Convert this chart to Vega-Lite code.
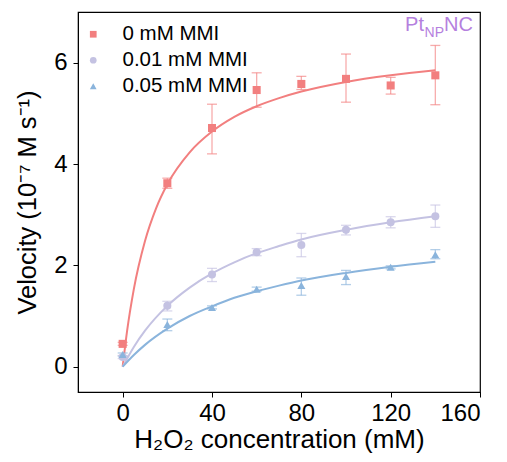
{
  "$schema": "https://vega.github.io/schema/vega-lite/v6.json",
  "width": 402,
  "height": 380,
  "autosize": "none",
  "padding": {"left": 78, "top": 12, "right": 27, "bottom": 70},
  "background": "white",
  "config": {
    "font": "Liberation Sans",
    "view": {"stroke": "black", "strokeWidth": 1.2},
    "axis": {
      "grid": false,
      "domainColor": "black",
      "tickColor": "black",
      "tickSize": 5,
      "labelFontSize": 24,
      "labelColor": "black",
      "titleFontSize": 25,
      "titleFontWeight": "normal",
      "titleColor": "black",
      "labelPadding": 4
    },
    "legend": {
      "labelFontSize": 20.5,
      "labelColor": "black",
      "labelFont": "Liberation Sans"
    }
  },
  "datasets": {
    "pts": [
      {"series": "0 mM MMI", "x": 0, "v": 0.45, "lo": 0.42, "hi": 0.48},
      {"series": "0 mM MMI", "x": 20, "v": 3.62, "lo": 3.52, "hi": 3.72},
      {"series": "0 mM MMI", "x": 40, "v": 4.71, "lo": 4.2, "hi": 5.18},
      {"series": "0 mM MMI", "x": 60, "v": 5.46, "lo": 5.12, "hi": 5.8},
      {"series": "0 mM MMI", "x": 80, "v": 5.58, "lo": 5.47, "hi": 5.73},
      {"series": "0 mM MMI", "x": 100, "v": 5.68, "lo": 5.22, "hi": 6.17},
      {"series": "0 mM MMI", "x": 120, "v": 5.55, "lo": 5.38, "hi": 5.71},
      {"series": "0 mM MMI", "x": 140, "v": 5.75, "lo": 5.17, "hi": 6.34},
      {"series": "0.01 mM MMI", "x": 0, "v": 0.19, "lo": 0.16, "hi": 0.22},
      {"series": "0.01 mM MMI", "x": 20, "v": 1.2, "lo": 1.1, "hi": 1.29},
      {"series": "0.01 mM MMI", "x": 40, "v": 1.82, "lo": 1.68, "hi": 1.94},
      {"series": "0.01 mM MMI", "x": 60, "v": 2.26, "lo": 2.19, "hi": 2.33},
      {"series": "0.01 mM MMI", "x": 80, "v": 2.4, "lo": 2.17, "hi": 2.63},
      {"series": "0.01 mM MMI", "x": 100, "v": 2.7, "lo": 2.6, "hi": 2.79},
      {"series": "0.01 mM MMI", "x": 120, "v": 2.85, "lo": 2.74, "hi": 2.96},
      {"series": "0.01 mM MMI", "x": 140, "v": 2.97, "lo": 2.75, "hi": 3.19},
      {"series": "0.05 mM MMI", "x": 0, "v": 0.24, "lo": 0.21, "hi": 0.27},
      {"series": "0.05 mM MMI", "x": 20, "v": 0.83, "lo": 0.71, "hi": 0.94},
      {"series": "0.05 mM MMI", "x": 40, "v": 1.17, "lo": 1.14, "hi": 1.2},
      {"series": "0.05 mM MMI", "x": 60, "v": 1.53, "lo": 1.49, "hi": 1.57},
      {"series": "0.05 mM MMI", "x": 80, "v": 1.6, "lo": 1.41, "hi": 1.75},
      {"series": "0.05 mM MMI", "x": 100, "v": 1.78, "lo": 1.62, "hi": 1.9},
      {"series": "0.05 mM MMI", "x": 120, "v": 1.96, "lo": 1.93, "hi": 1.99},
      {"series": "0.05 mM MMI", "x": 140, "v": 2.21, "lo": 2.13, "hi": 2.31}
    ],
    "fit": [
      {"series": "0 mM MMI", "x": 0, "v": 0},
      {"series": "0 mM MMI", "x": 2, "v": 0.71},
      {"series": "0 mM MMI", "x": 5, "v": 1.53},
      {"series": "0 mM MMI", "x": 10, "v": 2.48},
      {"series": "0 mM MMI", "x": 15, "v": 3.13},
      {"series": "0 mM MMI", "x": 20, "v": 3.6},
      {"series": "0 mM MMI", "x": 30, "v": 4.23},
      {"series": "0 mM MMI", "x": 40, "v": 4.64},
      {"series": "0 mM MMI", "x": 50, "v": 4.93},
      {"series": "0 mM MMI", "x": 60, "v": 5.14},
      {"series": "0 mM MMI", "x": 70, "v": 5.3},
      {"series": "0 mM MMI", "x": 80, "v": 5.43},
      {"series": "0 mM MMI", "x": 100, "v": 5.62},
      {"series": "0 mM MMI", "x": 120, "v": 5.75},
      {"series": "0 mM MMI", "x": 140, "v": 5.85},
      {"series": "0.01 mM MMI", "x": 0, "v": 0},
      {"series": "0.01 mM MMI", "x": 5, "v": 0.39},
      {"series": "0.01 mM MMI", "x": 10, "v": 0.71},
      {"series": "0.01 mM MMI", "x": 20, "v": 1.2},
      {"series": "0.01 mM MMI", "x": 30, "v": 1.56},
      {"series": "0.01 mM MMI", "x": 40, "v": 1.84},
      {"series": "0.01 mM MMI", "x": 50, "v": 2.06},
      {"series": "0.01 mM MMI", "x": 60, "v": 2.24},
      {"series": "0.01 mM MMI", "x": 70, "v": 2.38},
      {"series": "0.01 mM MMI", "x": 80, "v": 2.51},
      {"series": "0.01 mM MMI", "x": 100, "v": 2.7},
      {"series": "0.01 mM MMI", "x": 120, "v": 2.85},
      {"series": "0.01 mM MMI", "x": 140, "v": 2.97},
      {"series": "0.05 mM MMI", "x": 0, "v": 0},
      {"series": "0.05 mM MMI", "x": 5, "v": 0.23},
      {"series": "0.05 mM MMI", "x": 10, "v": 0.43},
      {"series": "0.05 mM MMI", "x": 20, "v": 0.75},
      {"series": "0.05 mM MMI", "x": 30, "v": 1.0},
      {"series": "0.05 mM MMI", "x": 40, "v": 1.19},
      {"series": "0.05 mM MMI", "x": 50, "v": 1.36},
      {"series": "0.05 mM MMI", "x": 60, "v": 1.49},
      {"series": "0.05 mM MMI", "x": 70, "v": 1.6},
      {"series": "0.05 mM MMI", "x": 80, "v": 1.7},
      {"series": "0.05 mM MMI", "x": 100, "v": 1.85},
      {"series": "0.05 mM MMI", "x": 120, "v": 1.97},
      {"series": "0.05 mM MMI", "x": 140, "v": 2.07}
    ],
    "label": [
      {"part": "Pt", "x": 160, "v": 6.62}
    ]
  },
  "layer": [
    {
      "data": {"name": "fit"},
      "mark": {"type": "line", "interpolate": "monotone", "strokeWidth": 2},
      "encoding": {
        "x": {
          "field": "x",
          "type": "quantitative",
          "scale": {"domain": [-20, 160], "nice": false, "zero": false},
          "axis": {"values": [0, 40, 80, 120, 160], "title": "H₂O₂ concentration (mM)", "titleFontSize": 26, "titlePadding": 1}
        },
        "y": {
          "field": "v",
          "type": "quantitative",
          "scale": {"domain": [-0.5, 7], "nice": false, "zero": false},
          "axis": {"values": [0, 2, 4, 6], "title": "Velocity (10⁻⁷ M s⁻¹)", "titleFontSize": 25.5, "titlePadding": 13, "labelPadding": 6}
        },
        "color": {
          "field": "series",
          "type": "nominal",
          "scale": {"domain": ["0 mM MMI", "0.01 mM MMI", "0.05 mM MMI"], "range": ["#F27F7F", "#C4C2E2", "#8AB4DC"]},
          "legend": null
        }
      }
    },
    {
      "data": {"name": "pts"},
      "mark": {"type": "errorbar", "ticks": {"size": 10}, "thickness": 1.3, "opacity": 0.65},
      "encoding": {
        "x": {"field": "x", "type": "quantitative", "title": "H₂O₂ concentration (mM)"},
        "y": {"field": "lo", "type": "quantitative", "title": "Velocity (10⁻⁷ M s⁻¹)"},
        "y2": {"field": "hi"},
        "color": {"field": "series", "type": "nominal", "legend": null}
      }
    },
    {
      "data": {"name": "pts"},
      "mark": {"type": "point", "filled": true, "opacity": 1, "size": 65, "strokeWidth": 0},
      "encoding": {
        "x": {"field": "x", "type": "quantitative", "title": "H₂O₂ concentration (mM)"},
        "y": {"field": "v", "type": "quantitative", "title": "Velocity (10⁻⁷ M s⁻¹)"},
        "fill": {
          "field": "series",
          "type": "nominal",
          "scale": {"range": ["#F27F7F", "#C4C2E2", "#8AB4DC"]},
          "legend": {
            "title": null,
            "orient": "none",
            "legendX": 5,
            "legendY": 12,
            "labelOffset": 19,
            "rowPadding": 5,
            "symbolSize": 45,
            "symbolStrokeWidth": 0
          }
        },
        "shape": {
          "field": "series",
          "type": "nominal",
          "scale": {"range": ["square", "circle", "triangle-up"]},
          "legend": {
            "title": null,
            "orient": "none",
            "legendX": 5,
            "legendY": 12,
            "labelOffset": 19,
            "rowPadding": 5,
            "symbolSize": 45,
            "symbolStrokeWidth": 0
          }
        }
      }
    },
    {
      "data": {"name": "label"},
      "mark": {"type": "text", "align": "right", "baseline": "alphabetic", "fontSize": 20, "color": "#B580DE", "dx": -7},
      "encoding": {
        "x": {"field": "x", "type": "quantitative"},
        "y": {"field": "v", "type": "quantitative"},
        "text": {"value": "NC"}
      }
    },
    {
      "data": {"name": "label"},
      "mark": {"type": "text", "align": "right", "baseline": "alphabetic", "fontSize": 14, "color": "#B580DE", "dx": -36, "dy": 6},
      "encoding": {
        "x": {"field": "x", "type": "quantitative"},
        "y": {"field": "v", "type": "quantitative"},
        "text": {"value": "NP"}
      }
    },
    {
      "data": {"name": "label"},
      "mark": {"type": "text", "align": "right", "baseline": "alphabetic", "fontSize": 20, "color": "#B580DE", "dx": -56},
      "encoding": {
        "x": {"field": "x", "type": "quantitative"},
        "y": {"field": "v", "type": "quantitative"},
        "text": {"field": "part"}
      }
    }
  ]
}
